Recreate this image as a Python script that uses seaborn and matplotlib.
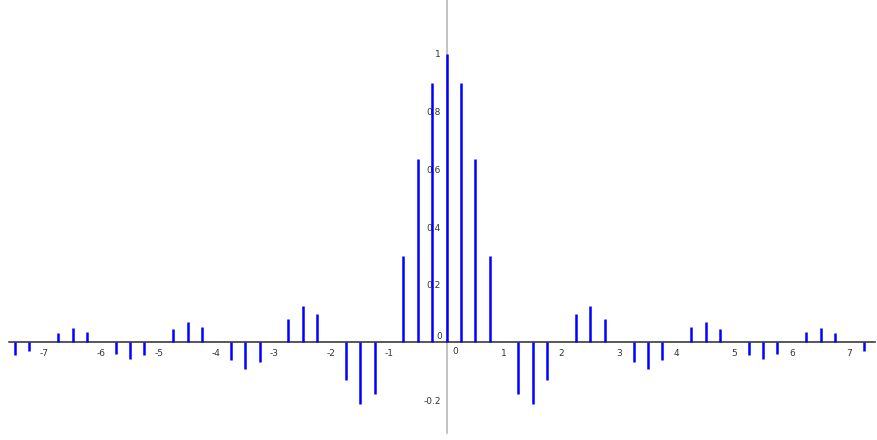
import matplotlib
matplotlib.use("Agg")
import matplotlib.pyplot as plt
import seaborn as sns
import pandas as pd

# sample positions (step 0.25) and values
x_vals = [-7.5, -7.25, -7.0, -6.75, -6.5, -6.25, -6.0, -5.75, -5.5, -5.25,
          -5.0, -4.75, -4.5, -4.25, -4.0, -3.75, -3.5, -3.25, -3.0, -2.75,
          -2.5, -2.25, -2.0, -1.75, -1.5, -1.25, -1.0, -0.75, -0.5, -0.25,
          0.0, 0.25, 0.5, 0.75, 1.0, 1.25, 1.5, 1.75, 2.0, 2.25,
          2.5, 2.75, 3.0, 3.25, 3.5, 3.75, 4.0, 4.25, 4.5, 4.75,
          5.0, 5.25, 5.5, 5.75, 6.0, 6.25, 6.5, 6.75, 7.0, 7.25, 7.5]
y_vals = [-0.042, -0.031, 0.0, 0.033, 0.049, 0.036, 0.0, -0.039, -0.058, -0.043,
          0.0, 0.047, 0.071, 0.053, 0.0, -0.060, -0.091, -0.069, 0.0, 0.082,
          0.127, 0.100, 0.0, -0.129, -0.212, -0.180, 0.0, 0.300, 0.637, 0.900,
          1.0, 0.900, 0.637, 0.300, 0.0, -0.180, -0.212, -0.129, 0.0, 0.100,
          0.127, 0.082, 0.0, -0.069, -0.091, -0.060, 0.0, 0.053, 0.071, 0.047,
          0.0, -0.043, -0.058, -0.039, 0.0, 0.036, 0.049, 0.033, 0.0, -0.031, -0.042]

x_ticks = [-7, -6, -5, -4, -3, -2, -1, 1, 2, 3, 4, 5, 6, 7]
x_tick_labels = ["-7", "-6", "-5", "-4", "-3", "-2", "-1", "1", "2", "3", "4", "5", "6", "7"]
y_ticks = [-0.2, 0.2, 0.4, 0.6, 0.8, 1.0]
y_tick_labels = ["-0.2", "0.2", "0.4", "0.6", "0.8", "1"]

df = pd.DataFrame({"x": x_vals, "y": y_vals})

sns.set_theme(style="white")
plt.rcParams["font.family"] = ["DejaVu Sans"]

fig = plt.figure(figsize=(8.77, 4.4), dpi=100)
ax = fig.add_axes([0, 0, 1, 1])
fig.patch.set_facecolor("white")
ax.set_facecolor("white")

ax.set_xlim(-7.76, 7.48)
ax.set_ylim(-0.338, 1.187)

# stems
ax.vlines(df["x"], 0, df["y"], colors="#0000ff", linewidth=1.8, zorder=3,
          capstyle="butt")

# axes through origin
for s in ["top", "right"]:
    ax.spines[s].set_visible(False)
ax.spines["bottom"].set_position(("data", 0))
ax.spines["left"].set_position(("data", 0))
ax.spines["bottom"].set_bounds(-7.6, 7.45)
ax.spines["left"].set_bounds(-0.314, 1.187)
ax.spines["bottom"].set_color("#2a2a2a")
ax.spines["bottom"].set_linewidth(1.1)
ax.spines["left"].set_color("#b8b8b8")
ax.spines["left"].set_linewidth(1.2)
ax.spines["bottom"].set_zorder(2)
ax.spines["left"].set_zorder(1)

ax.set_xticks(x_ticks)
ax.set_xticklabels(x_tick_labels)
ax.set_yticks(y_ticks)
ax.set_yticklabels(y_tick_labels)
ax.tick_params(axis="x", direction="inout", length=4, width=1,
               color="#7a8cff", pad=2.5, labelsize=6.5, labelcolor="#333333")
ax.tick_params(axis="y", direction="out", length=2.5, width=1,
               color="#333333", pad=1.5, labelsize=6.5, labelcolor="#333333")

# origin labels
ax.annotate("0", xy=(0, 0), xytext=(4, -3.5), textcoords="offset points",
            ha="left", va="top", fontsize=6.5, color="#333333")
ax.annotate("0", xy=(0, 0), xytext=(-3.5, 1), textcoords="offset points",
            ha="right", va="bottom", fontsize=6.5, color="#333333")

fig.savefig("out.png", dpi=100)
